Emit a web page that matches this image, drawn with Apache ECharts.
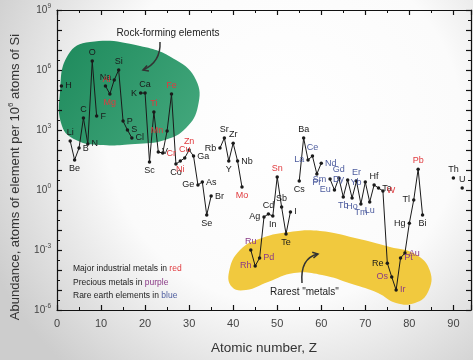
<!DOCTYPE html>
<html>
<head>
<meta charset="utf-8">
<script src="https://cdn.jsdelivr.net/npm/echarts@6/dist/echarts.min.js"></script>
<style>
    html, body { margin: 0; padding: 0; }
    #chart { width: 473px; height: 360px; }
</style>
</head>
<body>
<div id="chart"></div>
<script>
    // element symbols, Z = index + 1
    const names = ['H','He','Li','Be','B','C','N','O','F','Ne','Na','Mg','Al','Si','P','S','Cl','Ar','K','Ca',
        'Sc','Ti','V','Cr','Mn','Fe','Co','Ni','Cu','Zn','Ga','Ge','As','Se','Br','Kr','Rb','Sr','Y','Zr',
        'Nb','Mo','Tc','Ru','Rh','Pd','Ag','Cd','In','Sn','Sb','Te','I','Xe','Cs','Ba','La','Ce','Pr','Nd',
        'Pm','Sm','Eu','Gd','Tb','Dy','Ho','Er','Tm','Yb','Lu','Hf','Ta','W','Re','Os','Ir','Pt','Au','Hg',
        'Tl','Pb','Bi','Po','At','Rn','Fr','Ra','Ac','Th','Pa','U'];

    // atoms per 10^6 atoms of Si (null = not plotted)
    const abundance = [1.6e5, null, 280, 32, 125, 4000, 200, 2.8e6, 5000, null,
        1.6e5, 6.3e4, 3.2e5, 1e6, 2800, 1000, 400, null, 7e4, 7e4,
        25, 8000, 80, 70, 900, 6.3e4, 20, 28, 40, 100,
        50, 1.8, 2.5, 0.056, 0.5, null, 125, 400, 28, 220,
        28, 1.4, null, 1e-3, 1.6e-4, 4e-4, 0.045, 0.063, 0.05, 4.5,
        0.14, 0.0063, 0.08, null, 2.8, 400, 32, 50, 6.3, 22,
        null, 3.5, 1.0, 4, 0.45, 3.2, 0.4, 2.8, 0.2, 2.5,
        0.25, 1.8, 1.25, 0.9, 2.2e-4, 4.5e-5, 1e-5, 4e-4, 7e-4, 0.022,
        0.32, 11, 0.056, null, null, null, null, null, null, 4,
        null, 1.25];

    const yTicks = [-6, -3, 0, 3, 6, 9];

    const redSet = ['Mg','Al','Ti','Cr','Mn','Fe','Ni','Cu','Zn','Mo','Sn','W','Pb'];
    const purpleSet = ['Ru','Rh','Pd','Os','Ir','Pt','Au'];
    const blueSet = ['La','Ce','Pr','Nd','Sm','Eu','Gd','Tb','Dy','Ho','Er','Tm','Yb','Lu'];

    const labelPos = {
        H: 'right', Li: 'top', Be: 'bottom', B: 'right', C: 'top', N: 'right', O: 'top', F: 'right',
        Na: 'top', Mg: 'bottom', Al: 'left', Si: 'top', P: 'right', S: 'right', Cl: 'right',
        K: 'left', Ca: 'top', Sc: 'bottom', Ti: 'top', V: 'right', Cr: 'right', Mn: 'left', Fe: 'top',
        Co: 'bottom', Ni: 'bottom', Cu: 'top', Zn: 'top', Ga: 'right', Ge: 'left', As: 'right', Se: 'bottom',
        Br: 'right', Rb: 'left', Sr: 'top', Y: 'bottom', Zr: 'top', Nb: 'right', Mo: 'bottom',
        Ru: 'top', Rh: 'left', Pd: 'right', Ag: 'left', Cd: 'top', In: 'bottom', Sn: 'top', Sb: 'top',
        Te: 'bottom', I: 'right', Cs: 'bottom', Ba: 'top', La: 'left', Ce: 'top', Pr: 'bottom', Nd: 'right',
        Sm: 'left', Eu: 'left', Gd: 'top', Tb: 'bottom', Dy: 'left', Ho: 'bottom', Er: 'top', Tm: 'bottom',
        Yb: 'left', Lu: 'bottom', Hf: 'top', Ta: 'right', W: 'right', Re: 'left', Os: 'left', Ir: 'right',
        Pt: 'right', Au: 'right', Hg: 'left', Tl: 'left', Pb: 'top', Bi: 'bottom', Th: 'top', U: 'top'
    };
    const labelShift = { Ce: [5, 0], Nd: [0, -5], Gd: [0, -3], Er: [0, -3], Hf: [1, -3], Pr: [-2, 0], Eu: [0, 5] };

    const RED = '#e03a3e', PURPLE = '#8a3a86', BLUE = '#4d5c9e', INK = '#1a1a1a';
    const font = '"Liberation Sans", Arial, sans-serif';

    function colorOf(s) {
        if (redSet.indexOf(s) >= 0) return RED;
        if (purpleSet.indexOf(s) >= 0) return PURPLE;
        if (blueSet.indexOf(s) >= 0) return BLUE;
        return INK;
    }

    const seriesData = names.map((s, i) => {
        const v = abundance[i];
        if (v == null) return [i + 1, '-'];
        return {
            name: s,
            value: [i + 1, Math.log10(v)],
            label: { position: labelPos[s] || 'top', color: colorOf(s), offset: labelShift[s] || [0, 0] }
        };
    });

    const chart = echarts.init(document.getElementById('chart'));

    const axisLine = { onZero: false, lineStyle: { color: '#111', width: 1.2 } };
    const tick = { inside: true, length: 5, lineStyle: { color: '#111', width: 1.2 } };
    const minor = { show: true, splitNumber: 2, length: 3, lineStyle: { color: '#111', width: 1 } };

    // chevron arrow head at (tx,ty), coming from (fx,fy)
    function chevron(tx, ty, fx, fy, size) {
        const a = Math.atan2(ty - fy, tx - fx);
        const p1 = [tx - size * Math.cos(a - 0.5), ty - size * Math.sin(a - 0.5)];
        const p2 = [tx - size * Math.cos(a + 0.5), ty - size * Math.sin(a + 0.5)];
        return {
            type: 'polyline', z: 3,
            shape: { points: [p1, [tx, ty], p2] },
            style: { stroke: '#333', lineWidth: 1.5, fill: null }
        };
    }

    const option = {
        animation: false,
        backgroundColor: {
            type: 'radial', x: 0.6, y: 0.35, r: 0.9,
            colorStops: [
                { offset: 0, color: '#ffffff' },
                { offset: 0.55, color: '#fbfbfb' },
                { offset: 1, color: '#cdcdcd' }
            ]
        },
        textStyle: { fontFamily: font },
        grid: { left: 57, right: 2, top: 10, bottom: 46 },
        xAxis: [
            {
                type: 'value', min: 0, max: 94, interval: 10,
                axisLine, axisTick: tick, minorTick: minor,
                splitLine: { show: false },
                axisLabel: { color: '#444', fontSize: 11, margin: 8, showMaxLabel: false },
                name: 'Atomic number, Z', nameLocation: 'middle', nameGap: 31,
                nameTextStyle: { fontSize: 13.5, color: '#333' }
            },
            {
                type: 'value', position: 'top', min: 0, max: 94, interval: 10,
                axisLine, axisTick: tick, minorTick: minor,
                splitLine: { show: false }, axisLabel: { show: false }
            }
        ],
        yAxis: [
            {
                type: 'value', min: -6, max: 9, interval: 1,
                axisLine, axisTick: tick, minorTick: minor,
                splitLine: { show: false },
                axisLabel: {
                    color: '#444', margin: 6,
                    formatter: v => {
                        const n = Math.round(v);
                        return yTicks.indexOf(n) >= 0 ? '{b|10}{s|' + n + '}' : '';
                    },
                    rich: {
                        b: { fontSize: 10, color: '#444', lineHeight: 14 },
                        s: { fontSize: 6.5, color: '#444', verticalAlign: 'top', lineHeight: 8 }
                    }
                }
            },
            {
                type: 'value', position: 'right', min: -6, max: 9, interval: 1,
                axisLine, axisTick: tick, minorTick: minor,
                splitLine: { show: false }, axisLabel: { show: false }
            }
        ],
        graphic: [
            {
                type: 'polygon', z: 0,
                shape: {
                    smooth: 0.45,
                    points: [[68, 55], [90, 42], [140, 46], [176, 60], [196, 80], [198, 106], [186, 128],
                        [165, 140], [135, 144], [100, 145], [76, 140], [62, 126], [60, 92]]
                },
                style: {
                    fill: {
                        type: 'linear', x: 0, y: 0, x2: 1, y2: 1,
                        colorStops: [{ offset: 0, color: '#1e8a5c' }, { offset: 1, color: '#45a97e' }]
                    }
                }
            },
            {
                type: 'polygon', z: 0,
                shape: {
                    smooth: 0.45,
                    points: [[229, 272], [240, 250], [262, 238], [290, 232], [320, 231], [355, 238], [390, 247],
                        [415, 254], [430, 271], [428, 292], [415, 303], [396, 303], [378, 293], [352, 284],
                        [322, 275], [294, 273], [268, 282], [246, 290], [232, 287]]
                },
                style: { fill: '#f1c93e' }
            },
            {
                type: 'text', z: 3, x: 168, y: 33,
                style: { text: 'Rock-forming elements', fontSize: 10, fontFamily: font, fill: '#222',
                    textAlign: 'center', textVerticalAlign: 'middle' }
            },
            {
                type: 'bezierCurve', z: 3,
                shape: { x1: 160, y1: 42, cpx1: 161, cpy1: 62, x2: 143, y2: 70 },
                style: { stroke: '#333', lineWidth: 1.5, fill: null }
            },
            chevron(143, 70, 152, 67, 6),
            {
                type: 'text', z: 3, x: 270, y: 292,
                style: { text: 'Rarest "metals"', fontSize: 10, fontFamily: font, fill: '#222',
                    textAlign: 'left', textVerticalAlign: 'middle' }
            },
            {
                type: 'bezierCurve', z: 3,
                shape: { x1: 302, y1: 283, cpx1: 300, cpy1: 258, x2: 318, y2: 254 },
                style: { stroke: '#333', lineWidth: 1.5, fill: null }
            },
            chevron(318, 254, 309, 256, 6),
            {
                type: 'text', z: 3, x: 73, y: 269,
                style: { text: '{a|Major industrial metals in }{r|red}', textVerticalAlign: 'middle',
                    rich: { a: { fontSize: 8.5, fontFamily: font, fill: '#222' }, r: { fontSize: 8.5, fontFamily: font, fill: RED } } }
            },
            {
                type: 'text', z: 3, x: 73, y: 283,
                style: { text: '{a|Precious metals in }{r|purple}', textVerticalAlign: 'middle',
                    rich: { a: { fontSize: 8.5, fontFamily: font, fill: '#222' }, r: { fontSize: 8.5, fontFamily: font, fill: PURPLE } } }
            },
            {
                type: 'text', z: 3, x: 73, y: 296,
                style: { text: '{a|Rare earth elements in }{r|blue}', textVerticalAlign: 'middle',
                    rich: { a: { fontSize: 8.5, fontFamily: font, fill: '#222' }, r: { fontSize: 8.5, fontFamily: font, fill: BLUE } } }
            },
            {
                type: 'text', z: 3, x: 15, y: 177, rotation: Math.PI / 2,
                style: {
                    text: '{a|Abundance, atoms of element per 10}{s|6}{a| atoms of Si}',
                    textAlign: 'center', textVerticalAlign: 'middle',
                    rich: {
                        a: { fontSize: 13, fontFamily: font, fill: '#333', lineHeight: 16 },
                        s: { fontSize: 8, fontFamily: font, fill: '#333', verticalAlign: 'top', lineHeight: 9 }
                    }
                }
            }
        ],
        series: [
            {
                type: 'line',
                data: seriesData,
                symbol: 'circle',
                symbolSize: 3.5,
                showAllSymbol: true,
                connectNulls: false,
                z: 5,
                lineStyle: { color: INK, width: 1 },
                itemStyle: { color: INK },
                label: {
                    show: true, fontSize: 9, distance: 2,
                    formatter: p => p.name
                },
                labelLayout: { hideOverlap: false }
            }
        ]
    };

    chart.setOption(option);
</script>
</body>
</html>
